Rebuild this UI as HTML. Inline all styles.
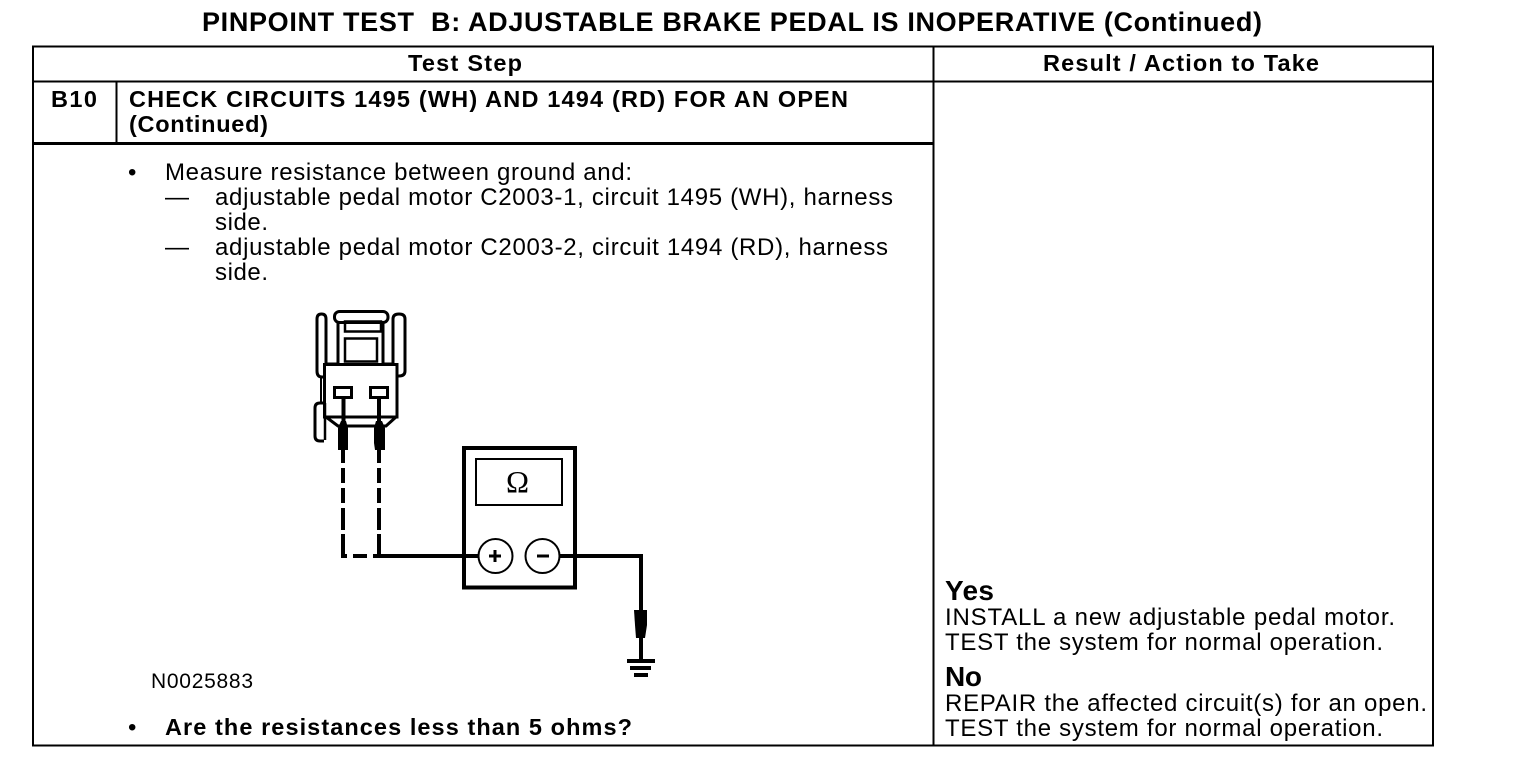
<!DOCTYPE html>
<html>
<head>
<meta charset="utf-8">
<style>
html,body{margin:0;padding:0;background:#fff;width:1536px;height:768px;overflow:hidden}
svg{display:block}
text{font-family:"Liberation Sans",sans-serif;font-size:24px;fill:#000;white-space:pre}
.b{font-weight:bold;font-size:23.500px}
</style>
</head>
<body>
<svg width="1536" height="768" viewBox="0 0 1536 768" xmlns="http://www.w3.org/2000/svg">
<text class="b" x="202" y="31" style="font-size:27px" textLength="1060" lengthAdjust="spacing">PINPOINT TEST  B: ADJUSTABLE BRAKE PEDAL IS INOPERATIVE (Continued)</text>

<g fill="none" stroke="#000">
<rect x="33" y="46.500" width="1400" height="699" stroke-width="2"/>
<path d="M33 81.500H1433M933.500 46V746M116.500 82V143" stroke-width="2"/>
<path d="M33 143.500H933" stroke-width="3"/>
</g>

<text class="b" x="408" y="71" textLength="114" lengthAdjust="spacing">Test Step</text>
<text class="b" x="1043" y="71" textLength="276" lengthAdjust="spacing">Result / Action to Take</text>
<text class="b" x="51" y="107" textLength="46" lengthAdjust="spacing">B10</text>
<text class="b" x="129" y="107" textLength="719" lengthAdjust="spacing">CHECK CIRCUITS 1495 (WH) AND 1494 (RD) FOR AN OPEN</text>
<text class="b" x="129" y="132" textLength="139" lengthAdjust="spacing">(Continued)</text>

<text x="128" y="180">•</text>
<text x="165" y="180" textLength="467" lengthAdjust="spacing">Measure resistance between ground and:</text>
<text x="165" y="205">—</text>
<text x="215" y="205" textLength="678" lengthAdjust="spacing">adjustable pedal motor C2003-1, circuit 1495 (WH), harness</text>
<text x="215" y="230" textLength="53" lengthAdjust="spacing">side.</text>
<text x="165" y="255">—</text>
<text x="215" y="255" textLength="673" lengthAdjust="spacing">adjustable pedal motor C2003-2, circuit 1494 (RD), harness</text>
<text x="215" y="280" textLength="53" lengthAdjust="spacing">side.</text>

<!-- connector -->
<g fill="none" stroke="#000" stroke-width="3">
<path d="M324 377H322Q317 377 317 371V319Q317 314 321.500 314Q326 314 326 319V364H338M338 323V364M383 323V364M383 364H393V319Q393 314 399 314Q405 314 405 319V371Q405 376 399 376H397"/>
<path d="M324 403H320Q315 403 315 408V436Q315 441 320 441H324"/>
<rect x="334.500" y="311.500" width="53.500" height="11" rx="5"/>
<rect x="345" y="321.500" width="36" height="10" stroke-width="2.500"/>
<rect x="345" y="338.500" width="32" height="23" stroke-width="2.500"/>
<path d="M324.500 364.500H397V417H324.500Z"/>
<path d="M321 378V402" stroke-width="2"/>
<rect x="334.500" y="387.500" width="17" height="10"/>
<rect x="370.500" y="387.500" width="17" height="10"/>
<path d="M326 417L338 426H386L396 417"/>
<path d="M325 403V440" stroke-width="2.500"/>
</g>
<path d="M343.500 398V424M379 398V424" stroke="#000" stroke-width="4" fill="none"/>
<g fill="#000">
<path d="M341 421H346L348 428V443L348 450H338L338 443V428Z"/>
<path d="M376 421H382L385 428V443L385 450H375L374 443V428Z"/>
</g>
<g fill="none" stroke="#000" stroke-width="4">
<path d="M343 450V463M343 468V483M343 488V503M343 508V530M343 534V558"/>
<path d="M379 450V463M379 468V483M379 488V503M379 508V530M379 534V556"/>
<path d="M341 556H347M353 556H367"/>
<path d="M373 556H478M560 556H641V612M641 638V661"/>
</g>
<path d="M634 610H647V625L645 638H636L635 625Z" fill="#000"/>
<rect x="627" y="659" width="28" height="4" fill="#000"/>
<rect x="630" y="666" width="21" height="4" fill="#000"/>
<rect x="634" y="673" width="14" height="4" fill="#000"/>

<!-- meter -->
<rect x="464" y="448" width="111" height="139.500" fill="none" stroke="#000" stroke-width="4"/>
<rect x="476" y="459" width="86" height="46" fill="none" stroke="#000" stroke-width="2"/>
<text x="506" y="492" style="font-family:'Liberation Serif',serif;font-size:31px">Ω</text>
<circle cx="495.500" cy="556" r="17" fill="#fff" stroke="#000" stroke-width="2"/>
<circle cx="542.500" cy="556" r="17" fill="#fff" stroke="#000" stroke-width="2"/>
<path d="M489 556H501M495 550V562M537 556H549" stroke="#000" stroke-width="3" fill="none"/>

<text x="151" y="688" textLength="102" lengthAdjust="spacing" style="font-size:21px">N0025883</text>
<text x="128" y="735">•</text>
<text class="b" x="165" y="735" textLength="467" lengthAdjust="spacing">Are the resistances less than 5 ohms?</text>

<text class="b" x="945" y="600" style="font-size:28px" textLength="49" lengthAdjust="spacing">Yes</text>
<text x="945" y="625" textLength="450" lengthAdjust="spacing">INSTALL a new adjustable pedal motor.</text>
<text x="945" y="650" textLength="438" lengthAdjust="spacing">TEST the system for normal operation.</text>
<text class="b" x="945" y="686" style="font-size:28px" textLength="37" lengthAdjust="spacing">No</text>
<text x="945" y="711" textLength="482" lengthAdjust="spacing">REPAIR the affected circuit(s) for an open.</text>
<text x="945" y="736" textLength="438" lengthAdjust="spacing">TEST the system for normal operation.</text>
</svg>
</body>
</html>
